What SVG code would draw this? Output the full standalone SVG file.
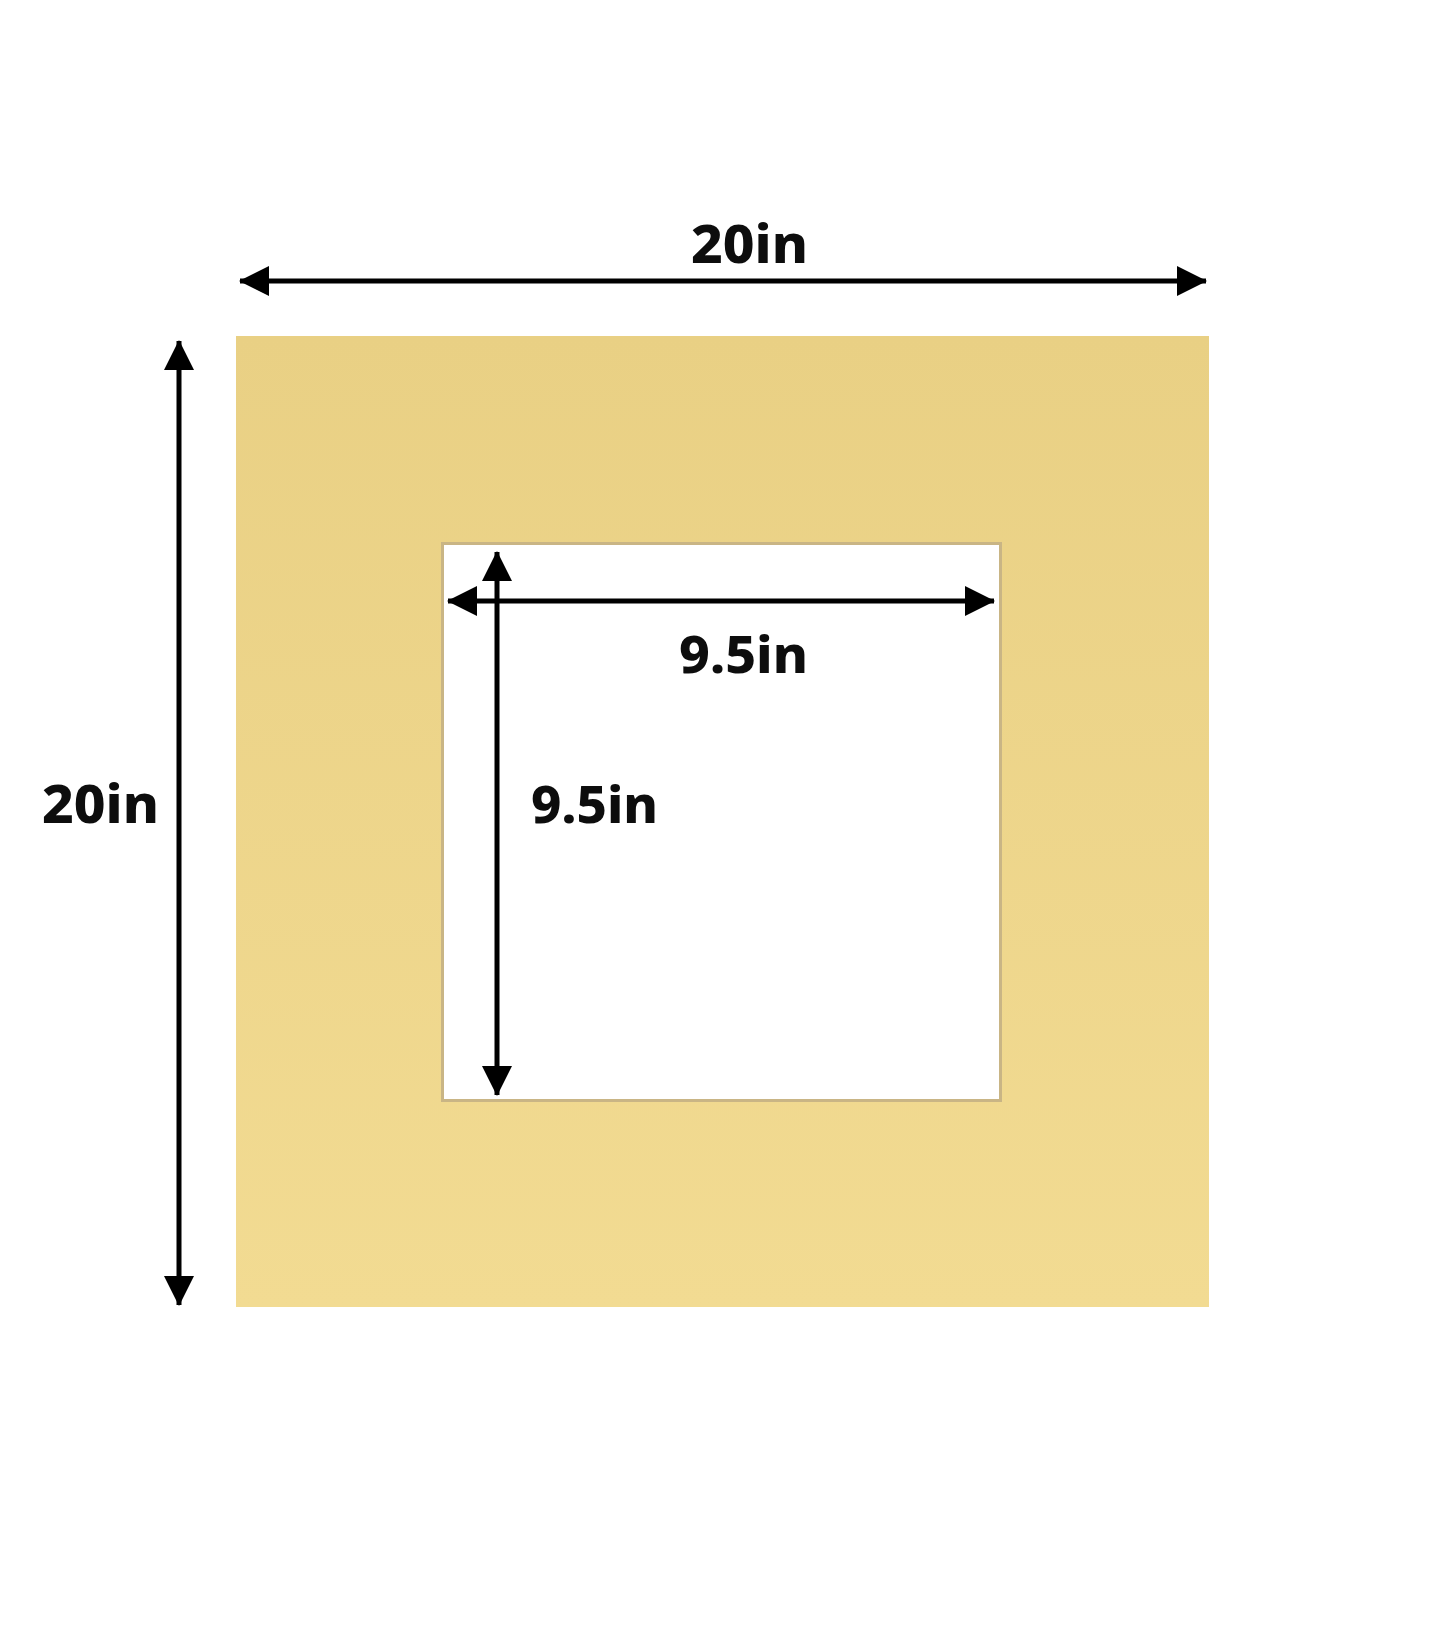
<svg xmlns="http://www.w3.org/2000/svg" width="1445" height="1645" viewBox="0 0 1445 1645">
  <defs>
    <linearGradient id="matGrad" x1="0" y1="0" x2="0" y2="1">
      <stop offset="0" stop-color="#E9D084"/>
      <stop offset="1" stop-color="#F2DB92"/>
    </linearGradient>
    <marker id="arrow" viewBox="0 0 30 30" refX="29" refY="15" markerWidth="30" markerHeight="30" markerUnits="userSpaceOnUse" orient="auto-start-reverse">
      <path d="M0,0 L30,15 L0,30 Z" fill="#000"/>
    </marker>
    <style>
      .dim { stroke:#000; stroke-width:5; fill:none; marker-start:url(#arrow); marker-end:url(#arrow); }
      .lbl { font-family:"Noto Sans","DejaVu Sans",sans-serif; font-weight:800; fill:#0d0d0d; }
    </style>
  </defs>
  <rect width="1445" height="1645" fill="#fff"/>
  <g id="mat">
    <path fill-rule="evenodd" fill="url(#matGrad)" d="M236,336 H1209 V1307 H236 Z M441,542 V1102 H1002 V542 Z"/>
    <rect x="442.5" y="543.5" width="558" height="557" fill="#fff" stroke="#C9B585" stroke-width="3"/>
  </g>
  <g id="connectors">
    <line class="dim" x1="240" y1="281" x2="1206" y2="281"/>
    <line class="dim" x1="179" y1="341" x2="179" y2="1305"/>
    <line class="dim" x1="448" y1="601" x2="994" y2="601"/>
    <line class="dim" x1="497" y1="552" x2="497" y2="1095"/>
  </g>
  <g id="labels">
    <text class="lbl" x="691" y="263" font-size="53" textLength="117" lengthAdjust="spacingAndGlyphs">20in</text>
    <text class="lbl" x="42" y="823" font-size="53" textLength="117" lengthAdjust="spacingAndGlyphs">20in</text>
    <text class="lbl" x="679" y="673" font-size="51" textLength="129" lengthAdjust="spacingAndGlyphs">9.5in</text>
    <text class="lbl" x="531" y="823" font-size="51" textLength="127" lengthAdjust="spacingAndGlyphs">9.5in</text>
  </g>
</svg>
